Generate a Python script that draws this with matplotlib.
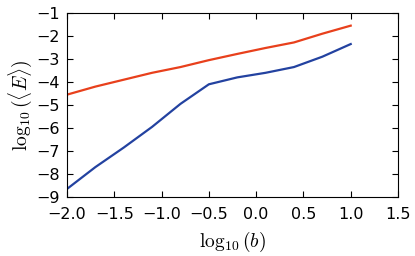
import numpy as np
import matplotlib
matplotlib.use("Agg")
import matplotlib.pyplot as plt

plt.rcParams['mathtext.fontset'] = 'cm'

# log10(b) values
logb = [-2.0, -1.7, -1.4, -1.1, -0.8, -0.5, -0.2, 0.1, 0.4, 0.7, 1.0]
# log10(<E>) upper (red) and lower (blue) curves
E_red = [-4.55, -4.2, -3.9, -3.6, -3.35, -3.05, -2.78, -2.52, -2.28, -1.9, -1.55]
E_blue = [-8.65, -7.7, -6.85, -5.95, -4.95, -4.1, -3.8, -3.6, -3.35, -2.9, -2.35]

fig = plt.figure(figsize=(4.15, 2.56), dpi=100)
ax = fig.add_axes([67/415, 59/256, 331/415, 184/256])

ax.plot(logb, E_red, color='#e8401c', lw=1.6)
ax.plot(logb, E_blue, color='#2342a0', lw=1.6)

ax.set_xlim(-2, 1.5)
ax.set_ylim(-9, -1)
ax.set_xticks(np.arange(-2, 1.51, 0.5))
ax.set_yticks(np.arange(-9, -0.9, 1))
ax.tick_params(direction='in', top=True, right=True, labelsize=11.5, length=4)
ax.tick_params(axis='x', pad=7)
ax.tick_params(axis='y', pad=5)
ax.set_xlabel(r'$\log_{10}(b)$', fontsize=14, labelpad=6)
ax.set_ylabel(r'$\log_{10}(\langle E\rangle)$', fontsize=14, labelpad=2)

fig.savefig('out.png', dpi=100)
